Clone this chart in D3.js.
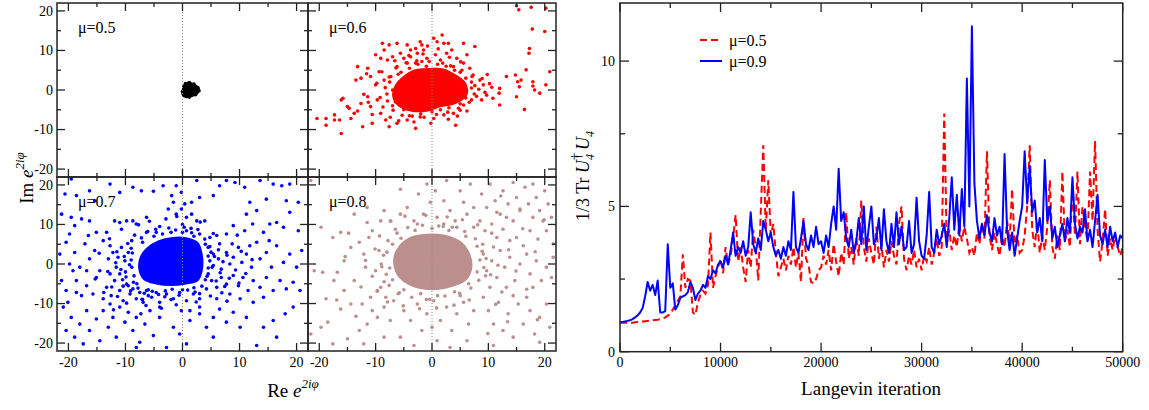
<!DOCTYPE html>
<html>
<head>
<meta charset="utf-8">
<script src="https://cdn.jsdelivr.net/npm/d3@7"></script>
<style>
body { margin: 0; background: #fff; }
svg { display: block; font-family: 'Liberation Serif', 'Times New Roman', serif; }
</style>
</head>
<body>
<script>
var width = 1149;
var height = 410;

// ---- scatter data: e^{2i phi} samples, dense core outline + visible points ----
var muLabels = ['\u03bc=0.5', '\u03bc=0.6', '\u03bc=0.7', '\u03bc=0.8'];
var scatterTicks = [-20, -10, 0, 10, 20];

var core05 = [[0.1,-0.3],[0.3,1.0],[0.9,1.7],[1.7,1.5],[2.4,0.9],[2.8,0.2],[2.5,-0.8],[1.6,-1.4],[0.7,-1.7],[0.1,-1.2]];
var pts05 = [[0.2,0.8],[0.5,1.6],[1.2,1.9],[2.0,1.5],[2.7,0.6],[2.9,-0.2],[2.3,-1.2],[1.2,-1.8],[0.3,-1.4],[0.0,-0.4]];

var core06 = [[-5.3,2.8],[-3.1,4.8],[-0.3,5.2],[2.0,5.1],[4.1,3.6],[5.8,1.6],[6.0,-1.2],[4.1,-3.2],[1.4,-4.0],[-0.9,-5.1],[-3.6,-5.1],[-5.8,-3.9],[-6.8,-1.6],[-6.3,1.2]];
var pts06 = [[-8.8,11.8],[-7.6,11.4],[-8.5,10.1],[-6.2,11.8],[-4.4,11.4],[-3.8,10.1],[-2.9,10.5],[-2.1,12.2],[-1.8,11.4],
  [-10.0,8.9],[-9.1,8.0],[-7.9,7.6],[-7.0,8.4],[-5.6,9.3],[-5.0,8.0],[-3.8,8.4],[-2.6,9.3],[-1.5,10.1],[-0.9,8.0],
  [-13.2,5.9],[-12.6,3.0],[-13.5,2.5],[-11.4,5.5],[-10.9,3.4],[-9.4,4.6],[-10.0,1.3],[-8.5,2.5],[-7.3,3.4],[-6.2,5.9],
  [-4.4,6.8],[-2.9,6.8],[-1.8,7.2],
  [-20.4,-7.2],[-18.8,-7.2],[-18.8,-8.9],[-17.3,-6.3],[-16.1,-2.5],[-15.8,-2.1],[-16.4,-7.6],[-14.7,-4.6],[-14.4,-7.2],
  [-12.3,-9.3],[-16.1,-11.0],[-13.8,-5.9],[-12.6,-3.4],[-11.4,-1.7],[-10.9,-4.2],[-10.6,-8.4],[-9.7,-2.5],[-9.1,-5.9],
  [-8.2,-7.6],[-7.6,-9.3],[-6.2,-8.4],[-4.4,-7.6],[-2.9,-9.7],[-2.1,-6.8],[-15.0,-4.2],[-17.3,-7.6],
  [0.3,13.1],[0.9,12.2],[1.8,13.9],[2.1,11.8],[2.9,11.8],[2.6,9.3],[3.5,10.1],[4.4,8.0],[5.6,11.8],[6.2,8.9],[6.7,5.5],
  [7.6,11.0],[7.3,3.8],[8.5,2.5],[9.1,1.3],[10.6,0.7],[12.0,0.4],[11.9,-0.8],[9.7,-1.3],[8.8,-2.5],[12.0,-3.8],[7.0,-2.5],
  [5.6,-3.8],[3.8,-5.9],[2.1,-6.3],[0.3,-7.2],[5.0,-5.1],[1.5,7.6],[3.8,5.9],[5.6,6.8],
  [13.2,3.4],[14.8,3.8],[15.2,2.1],[15.5,0.8],[15.0,-1.7],[16.7,5.1],[17.3,10.5],[17.2,9.3],[17.8,15.4],[20.0,14.8],
  [17.9,2.1],[18.2,0],[19.1,-0.8],[20.2,1.3],[20.9,4.6],[16.4,-4.9],[15.0,21.3],[15.4,20.3],[17.6,20.9],[20.2,20.7],
  [17.9,1.0],[15.8,2.5],
  [-7,0],[-6.5,-3],[-5,-5],[-2,-6],[0,-5.5],[3,-4.5],[6,-2],[7,0.5],[6,3],[4,5],[1,6.5],[-1,6],[-4,5.5],[-6,4],
  [-7.5,2],[-8,-1],[-7,-4],[-4,-6.5],[1.5,-5],[5,-3.5],[7.5,-1],[7,2],[5,4.5],[2.5,6],[-2.5,6.5],[-5.5,4.5],
  [-8.3,0.6],[-7.9,-2.8],[-7.6,3.3],[-6.9,-5.1],[-6.4,5.6],[-5.3,-6.4],[-4.6,6.9],[-3.5,-6.6],[-2.7,7.4],[-1.4,-6.9],
  [-0.5,7.2],[0.8,-6.2],[1.9,6.8],[2.8,-5.6],[3.3,6.1],[4.7,-4.6],[5.3,5.0],[6.6,-3.1],[7.1,3.4],[7.6,1.1],[7.9,-1.6],
  [8.3,0.2],[9.4,-0.6],[8.9,2.9],[10.2,1.6],[10.8,-2.1],[-9.2,-1.9],[-9.8,1.7],[-8.7,-4.3],[-8.9,4.6],[-11.3,-3.1],
  [-10.6,-6.2],[-12.1,-1.1],[-5.9,-7.8],[-3.2,-8.1],[-0.2,-8.4],[2.9,-7.4],[4.5,-6.6],[6.2,-5.3],[-6.6,7.4],[-4.1,8.7],
  [-1.6,9.1],[0.6,8.9],[3.1,8.3],[5.1,7.1],[-7.4,-6.9],[-11.6,4.1],[-13.2,-5.3],[1.1,10.4],[-0.8,11.1],[4.2,-8.9],[9.8,3.9]];

var core07 = [[-6.2,3.8],[-4.2,5.6],[-2.0,6.4],[0.6,6.4],[2.6,5.2],[3.3,2.2],[3.3,-1.5],[2.6,-4.0],[0.6,-4.8],[-2.0,-5.2],[-4.6,-4.8],[-6.7,-3.7],[-7.5,-1.1],[-7.2,1.8]];
var pts07 = [[-19.5,21.5],[-20.6,17.7],[-18.6,17.3],[-16.3,18.5],[-12.7,20.2],[-11.0,18.1],[-8.7,19.4],[-7.2,18.5],[-5.1,18.4],
  [-3.4,19.8],[-1.9,17.3],[-1.1,19.8],[-0.2,18.1],[0.4,15.2],[1.6,15.6],[2.5,21.1],[5.4,17.3],[6.5,19.8],[7.7,21.1],
  [9.2,20.6],[10.9,19.4],[11.8,15.6],[13.6,21.1],[14.7,16.4],[15.9,20.2],[17.4,19.8],[18.2,16.0],[18.8,20.2],[20.3,15.6],
  [3.0,16.8],[-1.6,15.6],[-15.4,16.0],
  [-21.2,12.6],[-19.5,11.8],[-17.7,11.4],[-18.9,9.7],[-16.3,10.9],[-15.1,8.0],[-16.5,7.2],[-13.3,8.0],[-11.9,10.9],
  [-11.0,10.5],[-9.8,10.9],[-8.7,10.9],[-8.1,10.1],[-6.3,8.0],[-4.6,8.0],[-6.3,11.8],[-2.5,13.9],[-1.1,12.6],[-0.2,13.9],
  [0.7,11.8],[1.6,12.6],[2.5,10.9],[3.9,10.9],[0.7,8.4],[3.0,7.6],[4.8,6.7],[6.0,7.2],[7.7,7.6],[8.9,9.7],[11.2,12.6],
  [13.0,13.5],[14.2,8.0],[15.3,10.1],[16.5,10.5],[17.7,9.3],[18.8,13.1],[20.3,8.4],[-19.8,7.6],[10.9,8.4],[12.3,10.1],
  [-21.5,2.5],[-20.4,5.5],[-19.8,0],[-18.9,2.9],[-18.0,-0.8],[-17.1,5.1],[-16.3,1.3],[-15.4,3.4],[-14.5,-1.7],[-13.9,5.9],
  [-13.0,1.3],[-12.2,2.9],[-11.6,-0.8],[-10.7,4.2],[-10.1,0.8],[-9.5,2.9],[-8.9,5.9],[-8.9,-0.8],[-19.2,-1.7],[-16.8,-1.7],
  [-12.7,4.6],[-11.3,1.7],[4.5,4.2],[5.4,2.5],[6.3,1.3],[6.5,5.1],[7.7,2.9],[8.3,0],[8.9,1.7],[9.8,4.2],[10.4,0.4],
  [11.2,2.5],[12.1,-0.8],[13.0,5.5],[13.6,1.3],[14.7,2.9],[15.6,-0.8],[16.5,4.6],[17.7,0.4],[18.8,2.5],[20.0,-0.8],
  [20.9,3.4],[5.4,-0.4],[6.8,-1.3],[4.8,0.8],[11.8,4.6],[15.2,5.9],
  [-21.2,-4.2],[-20.4,-6.7],[-20.1,-9.7],[-18.6,-4.2],[-17.7,-8.0],[-16.8,-5.5],[-15.7,-7.6],[-15.1,-3.4],[-13.9,-8.8],
  [-13.3,-5.9],[-12.5,-8.0],[-11.9,-4.2],[-11.0,-6.7],[-10.4,-9.3],[-9.8,-5.1],[-9.2,-7.6],[-8.7,-6.3],[-8.1,-8.8],
  [-7.5,-7.2],[-6.9,-9.7],[-6.3,-6.7],[-5.4,-8.4],[-4.6,-7.2],[-4.0,-9.7],[-2.8,-7.6],[-1.6,-8.8],[-0.5,-7.2],[0.7,-9.3],
  [1.9,-7.6],[3.0,-8.8],[4.2,-6.3],[5.1,-4.2],[6.0,-5.9],[6.8,-3.4],[7.7,-5.1],[8.9,-2.9],[9.8,-5.5],[10.6,-3.4],
  [11.5,-6.7],[12.4,-4.2],[13.6,-5.9],[14.7,-3.4],[15.9,-6.7],[17.1,-4.2],[18.2,-6.3],[19.4,-4.6],[20.6,-6.7],[14.2,-8.4],
  [10.1,-8.8],[6.0,-8.8],[-4.6,-4.6],[-5.4,-3.4],[4.5,-2.5],[8.3,-7.6],[12.4,-9.7],[-18.6,-7.2],[-11.0,-2.5],[-12.7,-2.5],
  [-20.9,-10.9],[-19.5,-13.5],[-20.4,-16.8],[-18.0,-15.2],[-18.9,-18.5],[-16.8,-11.8],[-16.3,-16.8],[-15.1,-13.9],
  [-14.5,-19.4],[-13.9,-11.8],[-13.0,-16.0],[-12.2,-13.5],[-11.6,-18.5],[-11.0,-10.9],[-10.1,-14.7],[-9.5,-12.2],
  [-8.7,-16.8],[-8.1,-13.5],[-7.5,-19.8],[-6.6,-15.2],[-5.7,-11.8],[-5.1,-18.1],[-4.0,-13.5],[-2.8,-21.1],[-1.6,-16.0],
  [-0.5,-17.7],[-0.2,-11.8],[1.3,-14.3],[3.0,-12.6],[4.2,-16.0],[5.4,-13.5],[6.5,-11.4],[7.7,-14.7],[8.9,-12.2],
  [10.1,-16.0],[11.2,-13.5],[13.0,-20.6],[14.2,-16.0],[15.9,-14.3],[18.0,-12.6],[19.4,-10.9],[16.5,-18.5],[5.4,-18.5],
  [0.7,-20.2],[-8.1,-21.1],[-17.4,-20.2],[-12.7,-10.1],[-4.0,-10.9],[3.0,-10.9],
  [-9,4],[-8.5,-3],[-8,-5],[-6,-6.5],[-3,-6.8],[0,-6.5],[2,-6],[4,-4],[4.5,-1],[4.5,2],[4,5],[2,7],[0,8],[-2,8],[-5,7],
  [-7,5.5],[-9,1],[-10,-2],[-6,-8],[-2,-9],[1,6],[-4,9.5],[0,10],[1.5,9],[-1,12],[3,-7.5],[5,3],[-10.5,-4],[-7,-9],[-9.5,-5.5],
  [-11.5,3.1],[-10.8,-1.4],[-9.6,5.2],[-9.9,-3.3],[-10.2,1.9],[-9.1,-6.8],[-8.4,7.3],[-8.8,2.8],[-9.3,-0.2],[-8.6,-4.6],
  [-7.8,-6.1],[-7.2,6.6],[-6.7,-7.4],[-6.1,8.2],[-5.3,-6.9],[-4.7,8.8],[-4.2,-7.7],[-3.5,7.6],[-3.1,-8.3],[-2.4,9.1],
  [-1.8,-6.4],[-1.2,8.6],[-0.6,-7.9],[0.3,9.3],[0.9,-6.6],[1.6,7.9],[2.2,-7.1],[2.7,8.7],[3.4,-5.6],[3.9,6.3],[4.3,-3.1],
  [4.8,4.4],[5.2,-0.8],[5.6,1.9],[5.9,-4.3],[6.3,3.6],[6.6,-2.2],[7.1,0.6],[7.4,-5.7],[7.8,2.2],[8.2,-3.6],[8.7,5.1],
  [9.3,-1.5],[9.9,-4.8],[10.3,3.2],[11.1,-2.4],[-12.4,-5.8],[-13.1,-1.9],[-12.8,6.4],[-11.4,-8.2],[-10.7,8.8],[-6.4,-10.5],
  [-3.7,-11.2],[-1.1,-10.3],[2.4,-9.6],[4.9,-8.1],[6.9,-7.3],[5.4,7.7],[3.1,10.6],[-2.9,11.4],[-7.7,9.9],[-13.8,-7.2],
  [-14.6,2.7],[-12.1,-11.6],[-9.8,-9.9],[-7.3,-12.6],[-11.7,0.3],[-10.4,-5.6],[-7.1,-8.9],[-5.8,10.8],[1.3,-11.8],
  [7.8,-9.4],[9.6,7.3],[12.2,1.1],[-15.3,-3.8]];

var core08 = [[-5.6,4.5],[-3.6,6.6],[-0.8,7.3],[2.2,7.0],[5.0,5.4],[6.4,2.8],[6.9,-0.7],[6.0,-3.7],[3.6,-5.4],[0.8,-6.2],[-2.2,-5.9],[-4.6,-4.5],[-6.2,-2.1],[-6.6,1.4]];
var pts08 = [[-21.5,21.1],[-17.6,6.7],[-16.2,8.0],[-20.9,-1.7],[-19.4,-2.1],[-16.8,-2.1],[-15.6,0.8],[-14.4,4.2],[-13.8,-4.2],
  [-12.9,5.5],[-12.1,2.5],[-11.8,-0.8],[-11.5,10.5],[-10.6,8.4],[-10.0,-1.7],[-9.4,3.4],[-9.1,-5.9],[-10.9,-8.4],
  [-12.4,-10.1],[-14.4,-10.1],[-16.2,-11.4],[-18.5,-14.7],[-19.7,-16.0],[-21.5,-17.7],[-17.6,-20.2],[-15.0,-18.9],
  [-12.9,-16.8],[-11.5,-15.2],[-9.7,-13.5],[-8.5,-18.5],[-12.1,-20.2],[-10.6,-11.8],[-8.5,-10.9],[-8.2,-8.4],[-9.7,-6.7],
  [-13.8,12.6],[-9.1,10.9],[-8.5,13.5],[-11.5,14.3],[-19.7,9.3],[-15.6,-6.7],[-17.4,-4.2],[-18.8,-8.8],
  [-7.4,10.9],[-5.6,12.6],[-4.4,14.3],[-3.2,10.9],[-2.4,17.7],[-1.5,12.6],[-0.3,15.6],[0.6,18.5],[0.9,11.8],[2.1,16.0],
  [3.2,13.5],[4.1,10.9],[5.0,18.5],[5.6,15.6],[6.2,12.6],[6.8,20.2],[7.4,14.3],[-0.9,20.2],[-5.6,18.9],[2.6,21.1],
  [-6.5,8.8],[-2.6,10.1],[2.1,10.1],[4.4,9.3],[7.4,9.3],
  [8.8,17.7],[9.7,14.3],[10.3,20.2],[11.2,16.0],[12.1,12.6],[12.6,18.5],[13.5,15.2],[14.4,10.9],[15.0,16.8],[15.6,13.5],
  [16.5,19.4],[17.1,15.2],[17.9,11.8],[18.5,16.8],[19.1,13.5],[20.0,18.5],[20.6,15.2],[21.2,11.8],[8.5,10.9],[9.4,8.4],
  [10.6,10.1],[11.5,6.7],[12.6,8.8],[13.8,5.9],[15.0,6.7],[16.2,4.6],[17.4,8.4],[18.8,6.3],[20.3,8.4],[21.5,5.1],
  [17.9,20.2],[14.4,20.6],[11.5,13.1],[19.7,10.9],[13.2,11.8],
  [9.1,2.5],[9.7,-1.7],[10.6,0.8],[11.5,-3.4],[12.1,3.4],[12.9,-0.8],[13.8,1.7],[14.7,-4.2],[15.6,0],[16.8,2.5],
  [17.4,-2.5],[18.5,0.8],[19.4,-4.2],[20.3,-0.8],[21.5,1.7],[21.2,-3.4],[10.3,-5.9],[13.2,-5.9],[17.9,-5.9],
  [9.1,-8.4],[10.0,-11.8],[10.9,-15.2],[11.8,-9.7],[12.6,-16.8],[13.5,-12.6],[14.4,-18.5],[15.3,-10.1],[16.2,-15.2],
  [17.4,-11.8],[18.2,-17.7],[19.1,-13.5],[20.3,-10.1],[20.9,-16.0],[10.9,-20.6],[16.8,-8.4],[19.1,-19.8],[14.4,-8.0],
  [-6.8,-9.3],[-5.0,-11.8],[-3.8,-14.3],[-2.6,-10.1],[-1.8,-16.8],[-0.9,-12.6],[0.3,-9.3],[0.9,-19.4],[1.5,-14.3],
  [2.6,-10.9],[3.5,-16.8],[4.4,-12.6],[5.6,-9.7],[6.5,-15.2],[7.4,-11.8],[-5.6,-18.5],[-3.2,-20.6],[3.2,-21.1],
  [6.2,-19.4],[-7.4,-14.3],[0,-16.0],
  [-8,3],[-7.5,-1],[-7,-4],[-5,-6.5],[-2,-7.5],[1,-8],[4,-7],[6.5,-5],[8,-2],[8.5,1],[8,4.5],[6,7],[3,8.5],[0,9],
  [-3,8.5],[-5.5,6.5],[-7,5],[-9,0],[-8.5,-4.5],[9.5,-3],[9,5],[-1,-9],[2,9.5],[-6,-7.5],[5,-8],
  [-8.6,2.2],[-8.1,-2.6],[-8.9,-0.7],[-7.8,5.9],[-7.6,-5.4],[-6.2,7.8],[-5.8,-7.3],[-4.3,9.2],[-3.6,-8.4],[-1.7,9.8],
  [-0.4,-8.9],[1.2,9.6],[2.3,-8.1],[3.6,9.3],[4.9,-7.4],[5.8,8.2],[6.9,-6.1],[7.7,6.4],[8.3,-4.1],[8.9,3.2],[9.2,-0.9],
  [9.6,1.4],[10.4,-2.7],[10.9,4.3],[-10.1,3.8],[-10.6,-3.1],[-9.7,-6.9],[-9.3,7.1],[-11.8,0.9],[-12.6,-5.8],[-11.2,6.7],
  [-7.9,-9.6],[-5.1,-10.6],[-2.2,-11.3],[0.8,-11.1],[3.9,-10.4],[6.6,-9.1],[-7.3,10.8],[-4.8,12.1],[-1.1,12.3],[2.7,11.9],
  [5.4,11.2],[8.1,9.9],[10.6,7.8],[11.7,-0.3],[12.4,-7.1],[11.3,-10.2],[13.6,3.6],[14.9,-1.8],[16.1,8.9],[13.4,-14.6],
  [16.8,-6.4],[18.3,3.1],[15.6,13.9],[12.2,17.2],[9.9,-17.6],[18.7,-14.1],[19.9,11.2],[-13.5,-13.2],[-14.8,7.8],
  [-16.9,-9.1],[-15.4,1.9]];

// ---- Langevin trace data: 1/3 Tr U4^dagger U4, sampled every 250 iterations ----
var iterStep = 250;
var traceMu05 = [
  1.0,1.0,1.0,1.0,1.0,1.0,1.01,1.02,1.03,1.04,1.05,1.06,1.07,1.08,1.09,1.1,1.12,1.14,1.18,1.24,
  1.3,1.45,1.6,1.75,1.9,3.35,2.2,2.5,2.45,1.35,1.27,1.7,1.95,2.1,2.0,2.3,4.1,2.2,2.6,2.9,
  3.2,2.7,3.6,3.0,3.3,3.9,4.7,3.1,3.6,2.9,2.4,3.5,2.9,4.2,3.6,2.45,4.8,7.1,4.2,5.9,
  4.0,4.4,3.4,2.6,2.9,3.2,2.8,3.3,3.0,3.6,2.9,3.4,2.4,4.6,3.2,3.0,2.4,2.35,2.5,2.8,
  2.9,3.3,3.0,3.5,2.8,3.7,3.1,2.6,3.4,3.0,4.8,3.2,3.6,3.0,3.9,3.3,5.2,3.6,3.1,3.9,
  3.4,3.0,4.3,3.2,3.7,2.9,3.5,3.1,3.8,3.3,3.0,4.4,5.0,3.2,2.8,3.3,3.0,3.5,2.9,3.2,
  2.8,3.3,3.1,3.6,3.0,3.4,3.9,3.3,3.6,8.2,3.7,4.2,3.5,4.0,3.6,4.4,3.8,4.3,3.9,3.4,
  3.6,3.3,4.1,3.7,4.4,3.9,6.9,4.0,3.5,4.1,3.7,3.3,4.0,3.6,4.5,3.8,5.6,3.7,4.0,3.4,
  3.5,4.0,5.0,7.1,4.2,3.6,4.5,3.4,4.0,3.5,4.3,5.9,3.6,3.2,4.0,3.5,6.2,3.8,4.2,3.6,
  5.7,4.0,6.2,3.7,5.0,4.3,3.8,6.2,4.5,7.25,4.2,3.1,3.8,4.9,3.3,3.9,3.5,4.0,3.6,3.3,3.6];
var traceMu09 = [
  1.0,1.02,1.04,1.06,1.08,1.12,1.18,1.25,1.35,1.5,1.9,2.4,2.1,2.3,1.95,2.45,1.35,1.35,1.4,3.7,
  2.2,2.35,1.45,1.6,1.85,1.9,1.95,2.05,2.4,2.2,1.78,2.0,2.1,2.3,2.2,2.6,2.5,2.8,2.7,3.0,
  3.1,2.9,3.3,3.0,3.5,4.1,3.3,3.6,3.4,3.8,3.3,3.6,4.8,3.7,3.4,3.9,3.5,4.5,4.2,3.8,
  4.1,3.6,3.3,3.5,3.2,3.6,3.3,3.8,3.5,5.5,3.6,3.4,3.9,4.5,3.7,3.5,4.0,3.6,4.3,3.7,
  3.8,3.4,4.0,3.6,4.4,5.0,4.2,6.3,4.5,4.8,3.9,3.6,4.2,3.4,3.8,4.6,3.7,5.0,3.5,4.3,
  5.0,3.7,3.9,4.6,3.5,4.9,3.8,3.4,4.4,3.6,4.8,3.7,4.3,3.5,3.6,4.5,3.4,3.7,5.3,3.8,
  3.3,3.2,4.0,5.5,3.6,3.4,4.2,3.7,4.0,4.4,3.6,4.6,6.0,4.2,5.4,4.0,5.6,4.3,9.4,5.0,
  11.2,5.8,4.5,3.9,4.4,4.0,4.7,4.1,3.8,4.6,4.0,4.3,3.7,6.8,4.2,3.5,4.1,3.3,3.9,4.5,
  5.0,6.9,5.1,6.4,4.8,5.2,4.1,4.6,3.8,6.6,4.5,5.0,3.9,4.3,3.6,4.0,4.4,3.8,4.6,4.1,
  6.0,4.4,3.9,4.3,4.1,4.9,3.8,4.2,3.6,4.5,5.4,4.0,3.7,4.2,3.6,4.3,3.8,4.1,3.6,4.0,3.9];
var lineXTicks = [0, 10000, 20000, 30000, 40000, 50000];
var lineYTicks = [0, 5, 10];
var legendNames = ['\u03bc=0.5', '\u03bc=0.9'];

// Create SVG canvas.
var svg = d3.select('body')
  .append('svg')
  .attr('width', width)
  .attr('height', height);

// ---- scatter panels ----
var panelBoxes = [[57, 308, 3, 177], [308, 556, 3, 177], [57, 308, 177, 351], [308, 556, 177, 351]];
var panelColors = ['#000000', '#ff0000', '#0000ff', '#bc8f8f'];
var cores = [core05, core06, core07, core08];
var points = [pts05, pts06, pts07, pts08];

function inwardTicks(g, x, y, b, major, minorLen) {
  var all = d3.range(-20, 21, 5);
  all.forEach(function(v) {
    var len = (v % 10 === 0) ? major : minorLen;
    g.append('line').attr('x1', b[0]).attr('x2', b[0] + len).attr('y1', y(v)).attr('y2', y(v));
    g.append('line').attr('x1', b[1]).attr('x2', b[1] - len).attr('y1', y(v)).attr('y2', y(v));
    g.append('line').attr('y1', b[3]).attr('y2', b[3] - len).attr('x1', x(v)).attr('x2', x(v));
    g.append('line').attr('y1', b[2]).attr('y2', b[2] + len).attr('x1', x(v)).attr('x2', x(v));
  });
}

cores.forEach(function(core, i) {
  var b = panelBoxes[i];
  var x = d3.scaleLinear().domain([-22, 22]).range([b[0], b[1]]);
  var y = d3.scaleLinear().domain([-22, 22]).range([b[3], b[2]]);
  var g = svg.append('g');

  svg.append('clipPath').attr('id', 'clip' + i)
    .append('rect').attr('x', b[0]).attr('y', b[2]).attr('width', b[1] - b[0]).attr('height', b[3] - b[2]);

  var inner = g.append('g').attr('clip-path', 'url(#clip' + i + ')');

  inner.append('path')
    .datum(core)
    .attr('d', d3.line().x(function(d) { return x(d[0]); }).y(function(d) { return y(d[1]); })
      .curve(d3.curveCatmullRomClosed))
    .attr('fill', panelColors[i])
    .attr('stroke', panelColors[i])
    .attr('stroke-width', 3)
    .attr('stroke-linejoin', 'round');

  inner.selectAll('circle')
    .data(points[i])
    .enter().append('circle')
    .attr('cx', function(d) { return x(d[0]); })
    .attr('cy', function(d) { return y(d[1]); })
    .attr('r', 1.8)
    .attr('fill', panelColors[i]);

  // dotted zero line
  inner.append('line')
    .attr('x1', x(0)).attr('x2', x(0)).attr('y1', b[2]).attr('y2', b[3])
    .attr('stroke', '#888').attr('stroke-width', 1).attr('stroke-dasharray', '1,2');

  var tk = g.append('g').attr('stroke', '#222').attr('stroke-width', 1.3);
  inwardTicks(tk, x, y, b, 8, 4);

  g.append('rect')
    .attr('x', b[0]).attr('y', b[2]).attr('width', b[1] - b[0]).attr('height', b[3] - b[2])
    .attr('fill', 'none').attr('stroke', '#222').attr('stroke-width', 1.5);

  g.append('text')
    .attr('x', b[0] + 21).attr('y', b[2] + 30)
    .attr('font-size', 16)
    .text(muLabels[i]);

  if (i % 2 === 0) {
    g.selectAll('.ylab')
      .data(scatterTicks)
      .enter().append('text')
      .attr('x', b[0] - 4)
      .attr('y', function(d) { return y(d); })
      .attr('dy', '0.35em')
      .attr('text-anchor', 'end')
      .attr('font-size', 14)
      .text(function(d) { return d; });
  }
  if (i >= 2) {
    g.selectAll('.xlab')
      .data(scatterTicks)
      .enter().append('text')
      .attr('x', function(d) { return x(d); })
      .attr('y', b[3] + 16)
      .attr('text-anchor', 'middle')
      .attr('font-size', 14)
      .text(function(d) { return d; });
  }
});

// scatter axis titles
var reLab = svg.append('text')
  .attr('x', 293).attr('y', 397)
  .attr('text-anchor', 'middle')
  .attr('font-size', 19);
reLab.append('tspan').text('Re ');
reLab.append('tspan').attr('font-style', 'italic').text('e');
reLab.append('tspan').attr('font-style', 'italic').attr('font-size', 13).attr('dy', -9).text('2i\u03c6');

var imLab = svg.append('text')
  .attr('transform', 'translate(33,178) rotate(-90)')
  .attr('text-anchor', 'middle')
  .attr('font-size', 19);
imLab.append('tspan').text('Im ');
imLab.append('tspan').attr('font-style', 'italic').text('e');
imLab.append('tspan').attr('font-style', 'italic').attr('font-size', 13).attr('dy', -9).text('2i\u03c6');

// ---- Langevin trace chart ----
var lx = d3.scaleLinear().domain([0, 50000]).range([620, 1122.7]);
var ly = d3.scaleLinear().domain([0, 12]).range([351.7, 3]);

svg.append('clipPath').attr('id', 'clipLine')
  .append('rect').attr('x', 620).attr('y', 3).attr('width', 502.7).attr('height', 348.7);

var line = d3.line()
  .x(function(d, i) { return lx(i * iterStep); })
  .y(function(d) { return ly(d); });

var lg = svg.append('g').attr('clip-path', 'url(#clipLine)');
lg.append('path')
  .datum(traceMu05)
  .attr('d', line)
  .attr('fill', 'none')
  .attr('stroke', '#ff0000')
  .attr('stroke-width', 2)
  .attr('stroke-dasharray', '7,4');
lg.append('path')
  .datum(traceMu09)
  .attr('d', line)
  .attr('fill', 'none')
  .attr('stroke', '#0000ff')
  .attr('stroke-width', 2)
  .attr('stroke-linejoin', 'round');

var ltk = svg.append('g').attr('stroke', '#222').attr('stroke-width', 1.3);
d3.range(0, 50001, 5000).forEach(function(v) {
  var len = (v % 10000 === 0) ? 9 : 5;
  ltk.append('line').attr('x1', lx(v)).attr('x2', lx(v)).attr('y1', ly(0)).attr('y2', ly(0) - len);
  ltk.append('line').attr('x1', lx(v)).attr('x2', lx(v)).attr('y1', ly(12)).attr('y2', ly(12) + len);
});
d3.range(0, 12.01, 2.5).forEach(function(v) {
  var len = (v % 5 === 0) ? 9 : 5;
  ltk.append('line').attr('x1', lx(0)).attr('x2', lx(0) + len).attr('y1', ly(v)).attr('y2', ly(v));
  ltk.append('line').attr('x1', lx(50000)).attr('x2', lx(50000) - len).attr('y1', ly(v)).attr('y2', ly(v));
});
svg.append('rect')
  .attr('x', lx(0)).attr('y', ly(12)).attr('width', lx(50000) - lx(0)).attr('height', ly(0) - ly(12))
  .attr('fill', 'none').attr('stroke', '#222').attr('stroke-width', 1.5);

svg.selectAll('.lxlab')
  .data(lineXTicks)
  .enter().append('text')
  .attr('x', function(d) { return lx(d); })
  .attr('y', 367)
  .attr('text-anchor', 'middle')
  .attr('font-size', 14)
  .text(function(d) { return d; });
svg.selectAll('.lylab')
  .data(lineYTicks)
  .enter().append('text')
  .attr('x', 615)
  .attr('y', function(d) { return ly(d); })
  .attr('dy', '0.35em')
  .attr('text-anchor', 'end')
  .attr('font-size', 14)
  .text(function(d) { return d; });

svg.append('text')
  .attr('x', 871).attr('y', 395)
  .attr('text-anchor', 'middle')
  .attr('font-size', 19)
  .text('Langevin iteration');

var trLab = svg.append('text')
  .attr('transform', 'translate(589,176) rotate(-90)')
  .attr('text-anchor', 'middle')
  .attr('font-size', 18);
trLab.append('tspan').text('1/3 Tr ');
trLab.append('tspan').attr('font-style', 'italic').text('U');
trLab.append('tspan').attr('font-size', 14).attr('dy', -8).text('\u2020');
trLab.append('tspan').attr('font-size', 12).attr('font-style', 'italic').attr('dx', -7).attr('dy', 13).text('4');
trLab.append('tspan').attr('font-style', 'italic').attr('dx', 4).attr('dy', -5).text('U');
trLab.append('tspan').attr('font-size', 12).attr('font-style', 'italic').attr('dy', 5).text('4');

// legend
var legColors = ['#ff0000', '#0000ff'];
var legDash = ['7,4', null];
legendNames.forEach(function(name, i) {
  var yy = 40 + i * 21;
  svg.append('line')
    .attr('x1', 700).attr('x2', 722).attr('y1', yy).attr('y2', yy)
    .attr('stroke', legColors[i]).attr('stroke-width', 2)
    .attr('stroke-dasharray', legDash[i]);
  svg.append('text')
    .attr('x', 729).attr('y', yy + 6)
    .attr('font-size', 16)
    .text(name);
});
</script>
</body>
</html>
